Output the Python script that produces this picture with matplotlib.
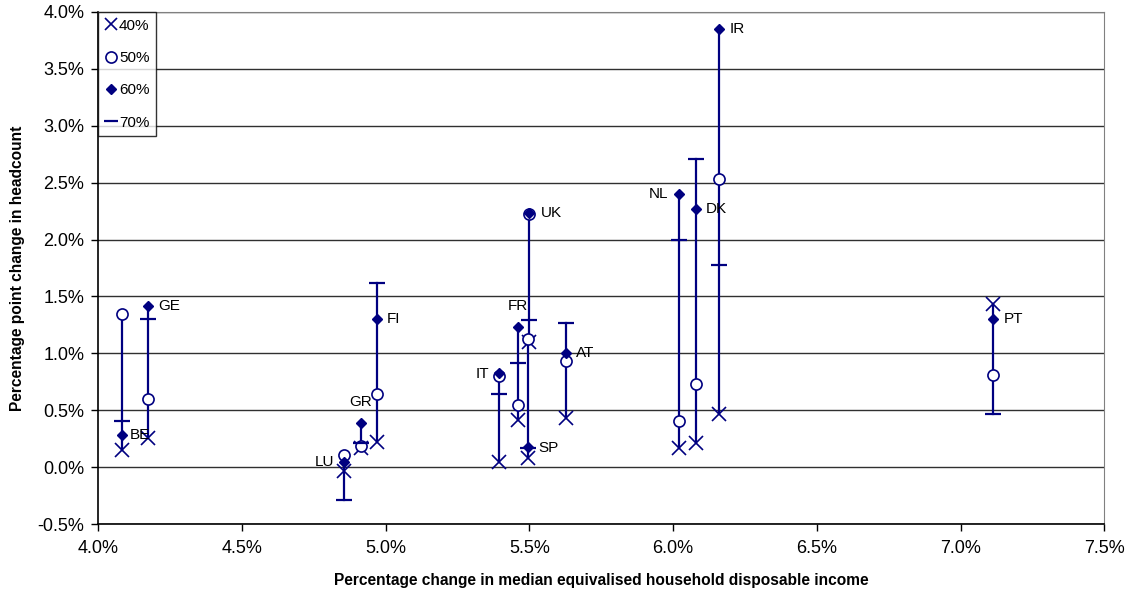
import matplotlib

matplotlib.use("Agg")
import matplotlib.pyplot as plt
from matplotlib.lines import Line2D
from matplotlib.ticker import FuncFormatter, MultipleLocator

plt.rcParams["font.family"] = ["Liberation Sans", "DejaVu Sans"]

NAVY = "#000080"

countries = ["BE", "GE", "LU", "GR", "FI", "IT", "FR", "UK", "SP", "AT", "NL", "DK", "IR", "PT"]
income_change = [4.083, 4.174, 4.856, 4.913, 4.969, 5.395, 5.459, 5.500, 5.495, 5.627, 6.020, 6.080, 6.161, 7.112]
line_40 = [0.15, 0.26, -0.03, 0.17, 0.22, 0.05, 0.42, 1.10, 0.08, 0.43, 0.17, 0.21, 0.47, 1.43]
line_50 = [1.35, 0.60, 0.11, 0.19, 0.64, 0.80, 0.55, 2.22, 1.13, 0.93, 0.41, 0.73, 2.53, 0.81]
line_60 = [0.28, 1.42, 0.05, 0.39, 1.30, 0.83, 1.23, 2.23, 0.18, 1.00, 2.40, 2.27, 3.85, 1.30]
line_70 = [0.41, 1.30, -0.29, 0.21, 1.62, 0.64, 0.92, 1.29, 0.17, 1.27, 2.00, 2.71, 1.78, 0.47]

# label offsets in pixels from the 60% marker, with horizontal alignment
label_offsets = {
    "BE": (8, 0, "left"),
    "GE": (10, 0, "left"),
    "LU": (-10, 0, "right"),
    "GR": (11, 21, "right"),
    "FI": (10, 0, "left"),
    "IT": (-10, -1, "right"),
    "FR": (10, 21, "right"),
    "UK": (11, 0, "left"),
    "SP": (10, -1, "left"),
    "AT": (10, 0, "left"),
    "NL": (-11, 0, "right"),
    "DK": (10, 0, "left"),
    "IR": (10, 0, "left"),
    "PT": (11, 0, "left"),
}


def _pct(value, _pos):
    return f"{value:.1f}%"


fig = plt.figure(figsize=(11.35, 5.95), dpi=100)
ax = fig.add_axes([0.0866, 0.1188, 0.8864, 0.8615])

for x, a, b, c, d in zip(income_change, line_40, line_50, line_60, line_70):
    values = [a, b, c, d]
    ax.plot([x, x], [min(values), max(values)], color=NAVY, lw=1.6, zorder=3)

ax.plot(income_change, line_40, linestyle="none", marker="x", ms=9.5, mew=1.2, color=NAVY, zorder=4)
ax.plot(income_change, line_50, linestyle="none", marker="o", ms=8, mew=1.2,
        markerfacecolor="white", markeredgecolor=NAVY, zorder=4)
ax.plot(income_change, line_60, linestyle="none", marker="D", ms=5.5, color=NAVY, zorder=5)
ax.plot(income_change, line_70, linestyle="none", marker="_", ms=11, mew=1.6, color=NAVY, zorder=4)

for name, x, y in zip(countries, income_change, line_60):
    dx, dy, ha = label_offsets[name]
    ax.annotate(name, (x, y), xytext=(dx, dy), textcoords="offset pixels",
                ha=ha, va="center", fontsize=11, color="black", zorder=6)

ax.set_xlim(4.0, 7.5)
ax.set_ylim(-0.5, 4.0)
ax.xaxis.set_major_locator(MultipleLocator(0.5))
ax.yaxis.set_major_locator(MultipleLocator(0.5))
ax.xaxis.set_major_formatter(FuncFormatter(_pct))
ax.yaxis.set_major_formatter(FuncFormatter(_pct))
ax.tick_params(direction="out", length=5, width=1, labelsize=13, colors="black")
ax.tick_params(axis="x", pad=6)
ax.tick_params(axis="y", pad=5)
ax.grid(axis="y", color="#303030", lw=1)
ax.set_axisbelow(True)

for side in ["top", "right"]:
    ax.spines[side].set_color("#808080")
for side in ["left", "bottom"]:
    ax.spines[side].set_color("black")
    ax.spines[side].set_linewidth(1.2)

ax.set_xlabel("Percentage change in median equivalised household disposable income",
              fontsize=11.2, fontweight="bold", labelpad=12)
ax.set_ylabel("Percentage point change in headcount", fontsize=11.2, fontweight="bold", labelpad=9)

handles = [
    Line2D([], [], linestyle="none", marker="x", ms=9, mew=1.2, color=NAVY, label="40%"),
    Line2D([], [], linestyle="none", marker="o", ms=8, mew=1.2, markerfacecolor="white",
           markeredgecolor=NAVY, label="50%"),
    Line2D([], [], linestyle="none", marker="D", ms=5.5, color=NAVY, label="60%"),
    Line2D([], [], linestyle="none", marker="_", ms=10, mew=1.6, color=NAVY, label="70%"),
]
legend = ax.legend(handles=handles, loc="upper left", bbox_to_anchor=(0, 1), borderaxespad=0,
                   fontsize=11, frameon=True, fancybox=False, handlelength=0.7,
                   handletextpad=0.2, labelspacing=1.2, borderpad=0.45)
legend.get_frame().set_edgecolor("black")
legend.get_frame().set_linewidth(1)
legend.set_zorder(7)

fig.savefig("out.png", dpi=100)
